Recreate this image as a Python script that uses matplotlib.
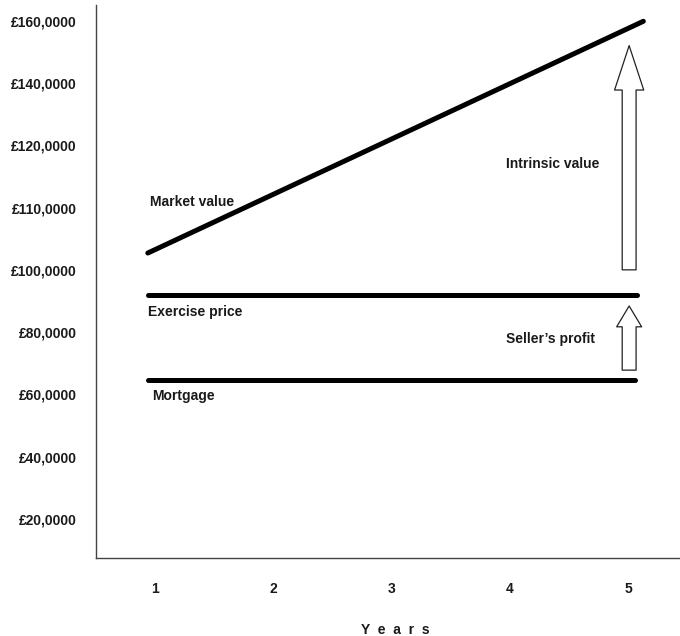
import matplotlib
matplotlib.use("Agg")
import matplotlib.pyplot as plt
from matplotlib.patches import FancyArrowPatch, ArrowStyle

# y positions are evenly spaced categories on the drawing
y_pos = [1, 2, 3, 4, 5, 6, 7, 8, 9]
y_labels = ['£20,0000', '£40,0000', '£60,0000', '£80,0000', '£100,0000',
            '£110,0000', '£120,0000', '£140,0000', '£160,0000']
years = [1, 2, 3, 4, 5]

market_x = [0.94, 5.13]
market_y = [5.27, 8.99]
exercise_x = [0.94, 5.08]
exercise_y = [4.60, 4.60]
mortgage_x = [0.94, 5.06]
mortgage_y = [3.23, 3.23]

intrinsic_arrow = (5.01, 5.0, 8.6)   # x, from, to
profit_arrow = (5.01, 3.39, 4.42)

plt.rcParams['font.family'] = ['Liberation Sans', 'DejaVu Sans']
fs = 10

fig = plt.figure(figsize=(6.8, 6.36), dpi=100)
ax = fig.add_axes([0.141, 0.1226, 0.859, 0.8694])

ax.plot(market_x, market_y, color='black', lw=3.6, solid_capstyle='round')
ax.plot(exercise_x, exercise_y, color='black', lw=3.6, solid_capstyle='round')
ax.plot(mortgage_x, mortgage_y, color='black', lw=3.6, solid_capstyle='round')

big = ArrowStyle.Simple(head_length=32, head_width=21, tail_width=10)
small = ArrowStyle.Simple(head_length=15, head_width=18, tail_width=10)
for (x, y0, y1), st in [(intrinsic_arrow, big), (profit_arrow, small)]:
    ax.add_patch(FancyArrowPatch((x, y0), (x, y1), arrowstyle=st,
                                 facecolor='white', edgecolor='#222222',
                                 lw=0.9, shrinkA=0, shrinkB=0))

txt = dict(fontsize=fs, fontweight='bold', color='#1a1a1a', va='center', ha='left')
ax.text(0.958, 6.09, 'Market value', **txt)
ax.text(0.94, 4.32, 'Exercise price', **txt)
ax.text(0.975, 2.97, 'Mortgage', **txt)
ax.text(3.97, 6.70, 'Intrinsic value', **txt)
ax.text(3.97, 3.89, 'Seller\u2019s profit', **txt)

ax.set_xlim(0.501, 5.44)
ax.set_ylim(0.374, 9.25)
ax.set_yticks(y_pos)
ax.set_yticklabels(y_labels, fontsize=fs, fontweight='bold', color='#1a1a1a')
ax.set_xticks(years)
ax.set_xticklabels([str(v) for v in years], fontsize=fs, fontweight='bold', color='#1a1a1a')
ax.tick_params(axis='both', length=0)
ax.tick_params(axis='y', pad=14)
ax.tick_params(axis='x', pad=17)
ax.set_xlabel('Y  e  a  r  s', fontsize=fs, fontweight='bold', color='#1a1a1a')
ax.xaxis.set_label_coords(0.512, -0.117)

ax.spines['top'].set_visible(False)
ax.spines['right'].set_visible(False)
for s in ('left', 'bottom'):
    ax.spines[s].set_color('#444444')
    ax.spines[s].set_linewidth(1.0)

fig.savefig('out.png', dpi=100)
